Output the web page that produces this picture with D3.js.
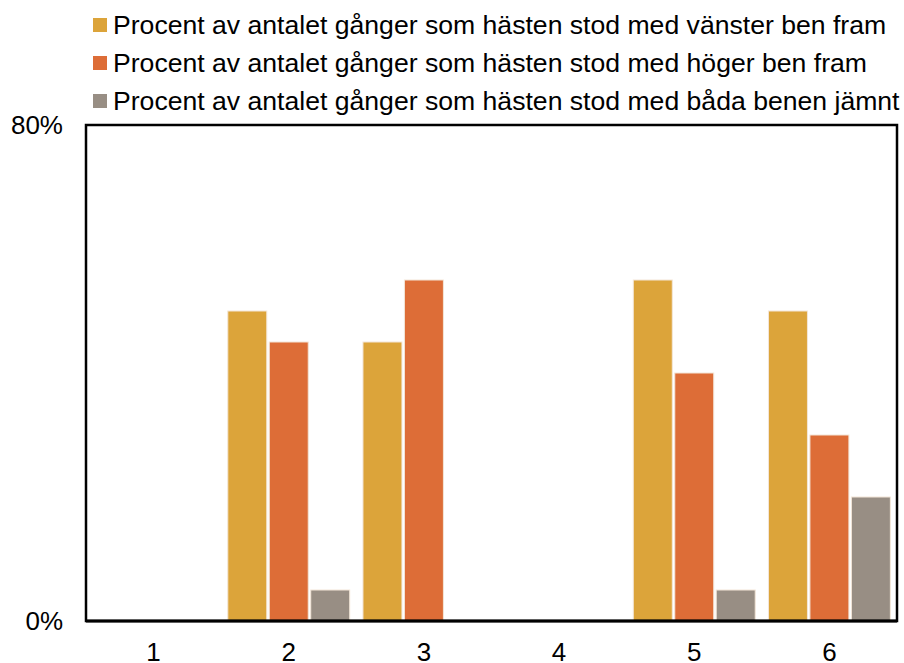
<!DOCTYPE html>
<html>
<head>
<meta charset="utf-8">
<script src="https://cdn.jsdelivr.net/npm/d3@7"></script>
<style>
  body { margin: 0; background: #fff; }
  text { font-family: "Liberation Sans", Arial, sans-serif; }
</style>
</head>
<body>
<div id="chart"></div>
<script>
// data
const categories = ['1', '2', '3', '4', '5', '6'];
const seriesNames = [
  'Procent av antalet gånger som hästen stod med vänster ben fram',
  'Procent av antalet gånger som hästen stod med höger ben fram',
  'Procent av antalet gånger som hästen stod med båda benen jämnt'
];
const leftValues = [0, 50, 45, 0, 55, 50];
const rightValues = [0, 45, 55, 0, 40, 30];
const bothValues = [0, 5, 0, 0, 5, 20];
const yTicks = [0, 80];
const colors = ['#dca43a', '#dd6d37', '#988e84'];

const series = [leftValues, rightValues, bothValues];

const width = 904;
const height = 663;
const margin = { top: 125, right: 7, bottom: 42, left: 86 };
const innerWidth = width - margin.left - margin.right;
const innerHeight = height - margin.top - margin.bottom;

const svg = d3.select('#chart')
  .append('svg')
  .attr('width', width)
  .attr('height', height);

const chart = svg.append('g')
  .attr('transform', `translate(${margin.left},${margin.top})`);

const xScale = d3.scaleBand()
  .domain(categories)
  .range([0, innerWidth]);

const xInner = d3.scaleBand()
  .domain(d3.range(series.length))
  .range([0, xScale.bandwidth()])
  .paddingInner(0.06)
  .paddingOuter(0.16);

const yScale = d3.scaleLinear()
  .domain([0, 80])
  .range([innerHeight, 0]);

// bars
series.forEach((vals, s) => {
  chart.selectAll('.bar-' + s)
    .data(vals.map((v, i) => ({ cat: categories[i], v: v })).filter(d => d.v > 0))
    .enter()
    .append('rect')
    .attr('class', 'bar-' + s)
    .attr('x', d => xScale(d.cat) + xInner(s))
    .attr('y', d => yScale(d.v))
    .attr('width', xInner.bandwidth())
    .attr('height', d => innerHeight - yScale(d.v))
    .attr('fill', colors[s])
    .attr('stroke', '#f3e6d8')
    .attr('stroke-width', 1);
});

// plot frame
chart.append('rect')
  .attr('x', 0)
  .attr('y', 0)
  .attr('width', innerWidth)
  .attr('height', innerHeight)
  .attr('fill', 'none')
  .attr('stroke', '#000')
  .attr('stroke-width', 2.5);

chart.append('line')
  .attr('x1', 0).attr('x2', innerWidth)
  .attr('y1', innerHeight).attr('y2', innerHeight)
  .attr('stroke', '#000')
  .attr('stroke-width', 3);

// y axis
const yAxis = d3.axisLeft(yScale)
  .tickValues(yTicks)
  .tickFormat(d => d + '%')
  .tickSize(0)
  .tickPadding(23);

chart.append('g')
  .attr('class', 'y-axis')
  .call(yAxis)
  .call(g => g.select('.domain').remove())
  .call(g => g.selectAll('text').attr('font-size', 26).attr('fill', '#000')
    .attr('font-family', '"Liberation Sans", Arial, sans-serif'));

// x axis
const xAxis = d3.axisBottom(xScale)
  .tickSize(0)
  .tickPadding(22);

chart.append('g')
  .attr('class', 'x-axis')
  .attr('transform', `translate(0, ${innerHeight})`)
  .call(xAxis)
  .call(g => g.select('.domain').remove())
  .call(g => g.selectAll('text').attr('font-size', 26).attr('fill', '#000')
    .attr('font-family', '"Liberation Sans", Arial, sans-serif'));

// legend
const legend = svg.selectAll('.legend')
  .data(seriesNames)
  .enter()
  .append('g')
  .attr('class', 'legend')
  .attr('transform', (d, i) => `translate(93, ${25 + i * 38})`);

legend.append('rect')
  .attr('x', 0)
  .attr('y', -7)
  .attr('width', 14)
  .attr('height', 14)
  .attr('fill', (d, i) => colors[i]);

legend.append('text')
  .attr('x', 20)
  .attr('y', 0)
  .attr('dy', '0.35em')
  .attr('font-size', 26.6)
  .attr('fill', '#000')
  .text(d => d);
</script>
</body>
</html>
